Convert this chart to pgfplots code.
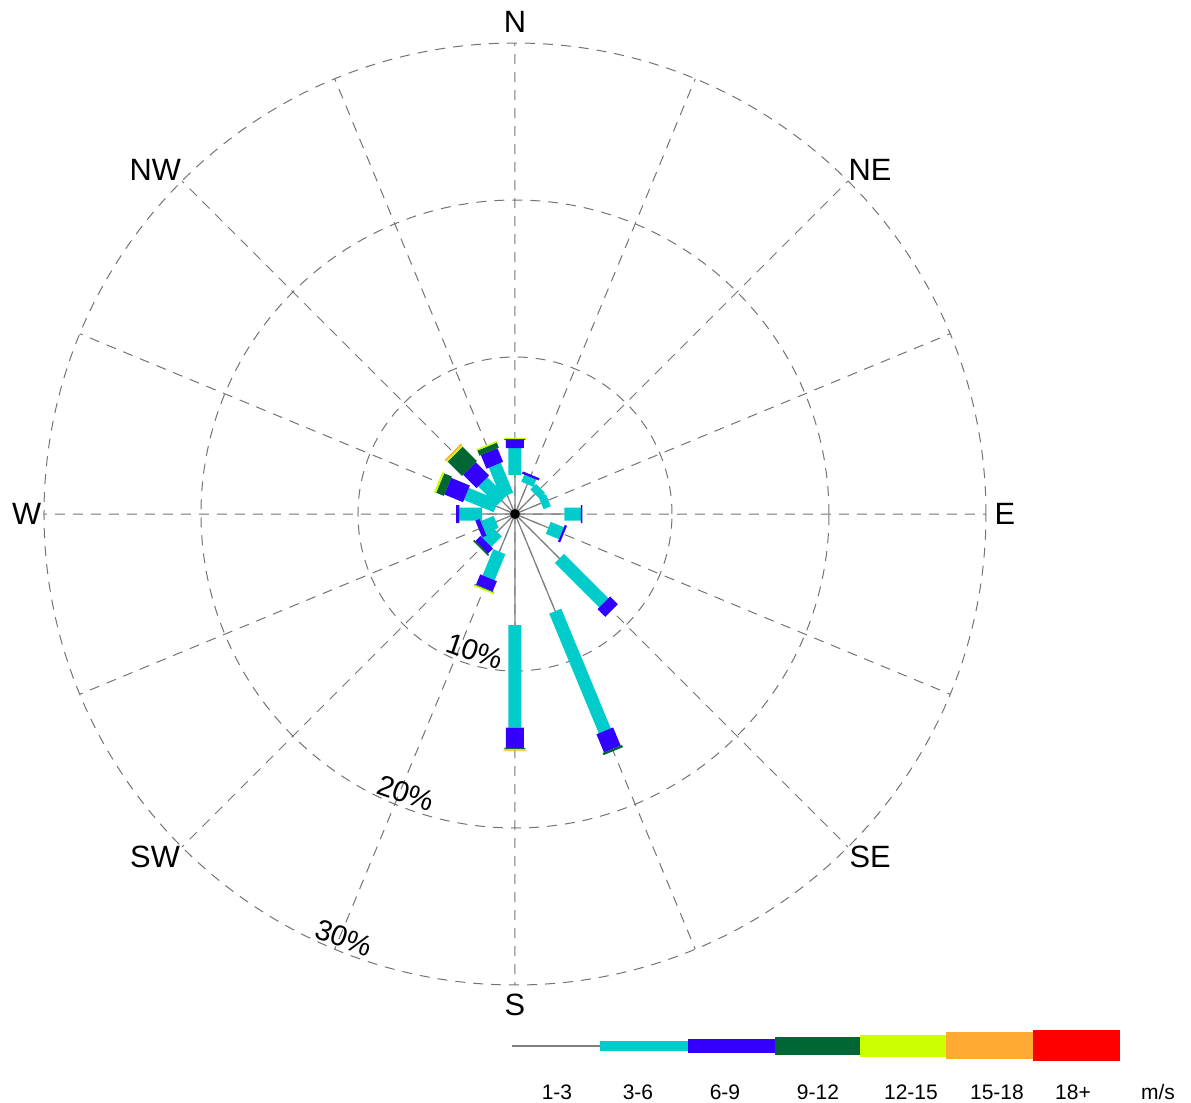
\documentclass[border=0pt]{standalone}
\usepackage{pgfplots}
\pgfplotsset{compat=1.18}
\usepgfplotslibrary{polar}
\usepackage{fontspec}
\setmainfont{Liberation Sans}
\definecolor{c1}{RGB}{128,128,128}
\definecolor{c2}{RGB}{0,204,204}
\definecolor{c3}{RGB}{51,0,255}
\definecolor{c4}{RGB}{0,102,51}
\definecolor{c5}{RGB}{204,255,0}
\definecolor{c6}{RGB}{255,170,51}
\definecolor{c7}{RGB}{255,0,0}
\definecolor{gridc}{RGB}{115,115,115}
\begin{document}
\begin{tikzpicture}
\useasboundingbox (-257.5pt,-294.5pt) rectangle (338pt,257pt);
\begin{polaraxis}[
  at={(0pt,0pt)}, anchor=center,
  scale only axis, width=471pt, height=471pt,
  xmin=0, xmax=360, ymin=0, ymax=30,
  xtick={0,45,...,315},
  xticklabels={,,,,,,,},
  minor xtick={22.5,67.5,...,337.5},
  ytick={10,20,30},
  yticklabels={,,},
  yticklabel style={text opacity=0},
  grid=both,
  major grid style={gridc, line width=0.5pt, dash pattern=on 5pt off 4pt},
  minor grid style={gridc, line width=0.5pt, dash pattern=on 5pt off 4pt},
  axis line style={draw=none},
  tick style={draw=none},
  clip=false,
  unbounded coords=jump,
]
% 1-3 m/s
\addplot[c1, line width=0.6pt] coordinates {
(90,0)(90,2.5)(90,nan) (67.5,0)(67.5,2.05)(67.5,nan) (45,0)(45,1.8)(45,nan)
(22.5,0)(22.5,1.8)(22.5,nan) (0,0)(0,3.14)(0,nan) (337.5,0)(337.5,2.3)(337.5,nan)
(315,0)(315,4.0)(315,nan) (292.5,0)(292.5,6.7)(292.5,nan) (270,0)(270,7.07)(270,nan)
(247.5,0)(247.5,2.6)(247.5,nan) (225,0)(225,1.6)(225,nan) (202.5,0)(202.5,1.3)(202.5,nan)
(180,0)(180,2.1)(180,nan) (157.5,0)(157.5,1.3)(157.5,nan) (135,0)(135,1.2)(135,nan)
(112.5,0)(112.5,1.3)};
% 3-6 m/s
\addplot[c2, line width=6.5pt] coordinates {
(90,2.5)(90,4.2)(90,nan) (67.5,2.05)(67.5,2.55)(67.5,nan) (45,1.8)(45,2.3)(45,nan)
(22.5,1.8)(22.5,2.3)(22.5,nan) (0,3.14)(0,4.2)(0,nan) (337.5,2.3)(337.5,3.2)(337.5,nan)
(315,4.0)(315,8.0)(315,nan) (292.5,6.7)(292.5,14.95)(292.5,nan) (270,7.07)(270,13.6)(270,nan)
(247.5,2.6)(247.5,4.4)(247.5,nan) (225,1.6)(225,2.55)(225,nan) (202.5,1.3)(202.5,2.2)(202.5,nan)
(180,2.1)(180,3.55)(180,nan) (157.5,1.3)(157.5,3.35)(157.5,nan) (135,1.2)(135,2.9)(135,nan)
(112.5,1.3)(112.5,3.36)};
% 6-9 m/s
\addplot[c3, line width=9pt] coordinates {
(90,4.2)(90,4.7)(90,nan) (67.5,2.55)(67.5,2.7)(67.5,nan) (0,4.2)(0,4.3)(0,nan)
(337.5,3.2)(337.5,3.35)(337.5,nan) (315,8.0)(315,8.7)(315,nan) (292.5,14.95)(292.5,16.2)(292.5,nan)
(270,13.6)(270,14.9)(270,nan) (247.5,4.4)(247.5,5.1)(247.5,nan) (225,2.55)(225,3.0)(225,nan)
(202.5,2.2)(202.5,2.5)(202.5,nan) (180,3.55)(180,3.75)(180,nan) (157.5,3.35)(157.5,4.63)(157.5,nan)
(135,2.9)(135,4.1)(135,nan) (112.5,3.36)(112.5,4.3)};
% 9-12 m/s
\addplot[c4, line width=10.5pt] coordinates {
(90,4.7)(90,4.78)(90,nan) (292.5,16.2)(292.5,16.35)(292.5,nan) (270,14.9)(270,15.0)(270,nan)
(247.5,5.1)(247.5,5.15)(247.5,nan) (225,3.0)(225,3.1)(225,nan) (157.5,4.63)(157.5,5.16)(157.5,nan)
(135,4.1)(135,5.4)(135,nan) (112.5,4.3)(112.5,4.65)};
% 12-15 m/s
\addplot[c5, line width=11pt] coordinates {
(90,4.78)(90,4.85)(90,nan) (270,15.0)(270,15.05)(270,nan) (247.5,5.15)(247.5,5.25)(247.5,nan)
(157.5,5.16)(157.5,5.3)(157.5,nan) (135,5.4)(135,5.5)(135,nan) (112.5,4.65)(112.5,4.75)};
% 15-18 m/s
\addplot[c6, line width=11.5pt] coordinates {
(270,15.05)(270,15.1)(270,nan) (135,5.5)(135,5.6)};
% centre
\addplot[only marks, mark=*, mark size=2.2pt, black] coordinates {(0,0)};
% ring labels
\node[rotate=-19, font=\fontsize{14.5}{17}\selectfont] at (axis cs:253.7,9.1) {10\%};
\node[rotate=-19, font=\fontsize{14.5}{17}\selectfont] at (axis cs:248.7,19.1) {20\%};
\node[rotate=-20, font=\fontsize{14.5}{17}\selectfont] at (axis cs:248,29.1) {30\%};
% direction labels
\begin{scope}[every node/.style={font=\fontsize{15.4}{18}\selectfont, inner sep=0pt}]
\node at (axis cs:90,31.33) {N};
\node at (axis cs:44.1,31.5) {NE};
\node at (axis cs:0,31.2) {E};
\node at (axis cs:316,31.44) {SE};
\node at (axis cs:270,31.27) {S};
\node at (axis cs:223.6,31.66) {SW};
\node at (axis cs:180,31.1) {W};
\node at (axis cs:136.3,31.7) {NW};
\end{scope}
\end{polaraxis}
\begin{axis}[
  at={(-1.5pt,-266pt)}, anchor=west,
  scale only axis, width=304pt, height=20pt,
  xmin=512, xmax=1120, ymin=-1, ymax=1,
  hide axis, clip=false,
]
\addplot[c1, line width=0.6pt] coordinates {(512,0)(600,0)};
\addplot[c2, line width=5pt] coordinates {(600,0)(688,0)};
\addplot[c3, line width=7pt] coordinates {(688,0)(775,0)};
\addplot[c4, line width=9pt] coordinates {(775,0)(860,0)};
\addplot[c5, line width=11pt] coordinates {(860,0)(946,0)};
\addplot[c6, line width=13.5pt] coordinates {(946,0)(1033,0)};
\addplot[c7, line width=15.5pt] coordinates {(1033,0)(1120,0)};
\begin{scope}[every node/.style={font=\fontsize{10.5}{12}\selectfont}]
\node at (axis cs:557,-2.3) {1-3};
\node at (axis cs:638,-2.3) {3-6};
\node at (axis cs:725,-2.3) {6-9};
\node at (axis cs:818,-2.3) {9-12};
\node at (axis cs:911,-2.3) {12-15};
\node at (axis cs:997,-2.3) {15-18};
\node at (axis cs:1073,-2.3) {18+};
\node at (axis cs:1158,-2.3) {m/s};
\end{scope}
\end{axis}
\end{tikzpicture}
\end{document}
